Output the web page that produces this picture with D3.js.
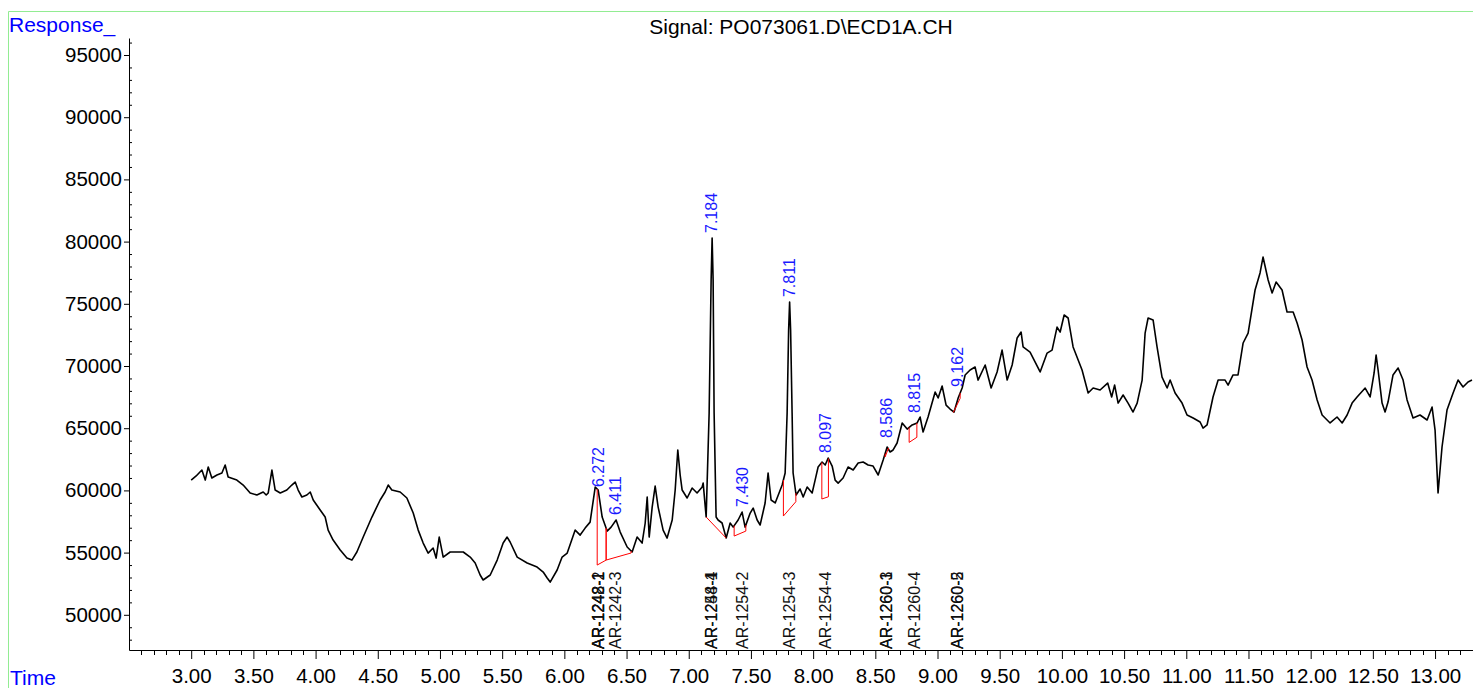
<!DOCTYPE html>
<html>
<head>
<meta charset="utf-8">
<script src="https://cdn.jsdelivr.net/npm/d3@7"></script>
<style>
  body { margin: 0; background: #fff; }
  svg { display: block; font-family: 'Liberation Sans', Arial, sans-serif; }
</style>
</head>
<body>
<svg id="chart" width="1473" height="688"></svg>
<script>
// chromatogram trace, [time (min), response]
var trace = [
  [3.000,60830],[3.040,61160],[3.086,61640],[3.113,60830],[3.137,61880],[3.166,61000],[3.207,61240],[3.247,61400],
  [3.273,62040],[3.297,61080],[3.367,60830],[3.418,60430],[3.474,59790],[3.528,59630],[3.579,59870],[3.603,59630],
  [3.619,59790],[3.649,61640],[3.675,60030],[3.716,59790],[3.769,60030],[3.809,60430],[3.836,60670],[3.860,60030],
  [3.890,59470],[3.930,59630],[3.957,59870],[3.981,59230],[4.037,58420],[4.077,57860],[4.101,56810],[4.141,56010],
  [4.198,55210],[4.252,54560],[4.292,54400],[4.332,55050],[4.383,56250],[4.453,57860],[4.519,59230],[4.559,59870],
  [4.584,60430],[4.613,60030],[4.680,59870],[4.734,59390],[4.785,58180],[4.825,56810],[4.865,55770],[4.905,54960],
  [4.945,55370],[4.969,54560],[4.994,56250],[5.026,54640],[5.082,55050],[5.136,55050],[5.187,55050],[5.243,54640],
  [5.283,54160],[5.323,53200],[5.347,52800],[5.404,53200],[5.460,54400],[5.508,55770],[5.540,56250],[5.564,55850],
  [5.621,54640],[5.701,54160],[5.781,53840],[5.830,53440],[5.862,52960],[5.886,52630],[5.942,53600],[5.982,54640],
  [6.023,54960],[6.087,56810],[6.127,56410],[6.167,56970],[6.207,57450],[6.248,60270],[6.272,60030],[6.304,57860],
  [6.344,56730],[6.376,57050],[6.416,57620],[6.449,56650],[6.505,55450],[6.545,55050],[6.585,56250],[6.625,55770],
  [6.650,57380],[6.666,59470],[6.682,56250],[6.706,58660],[6.730,60350],[6.754,58660],[6.794,56810],[6.826,56170],
  [6.867,57620],[6.891,60030],[6.912,63250],[6.931,61240],[6.947,60030],[6.987,59390],[7.027,60190],[7.067,59790],
  [7.108,60270],[7.116,60590],[7.140,57860],[7.164,66220],[7.180,76910],[7.188,80290],[7.196,76910],[7.204,66220],
  [7.220,57860],[7.236,57620],[7.268,57380],[7.301,56170],[7.333,57380],[7.357,57050],[7.397,57620],[7.429,58260],
  [7.453,57050],[7.494,58180],[7.518,58580],[7.550,57620],[7.574,57220],[7.614,58990],[7.638,61400],[7.662,59230],
  [7.695,58990],[7.751,60430],[7.775,61400],[7.791,66220],[7.803,72890],[7.811,75140],[7.819,72890],[7.831,66220],
  [7.839,61400],[7.863,59630],[7.895,60110],[7.920,59470],[7.952,60270],[7.992,59790],[8.016,60830],[8.040,61880],
  [8.072,62280],[8.097,62040],[8.121,62600],[8.153,61960],[8.177,60830],[8.201,60590],[8.241,61000],[8.281,61880],
  [8.322,61640],[8.362,62200],[8.402,62280],[8.442,62040],[8.482,61960],[8.523,61240],[8.563,62440],[8.595,63490],
  [8.619,63090],[8.643,63250],[8.675,63810],[8.716,65420],[8.756,64930],[8.796,65260],[8.836,65420],[8.860,65900],
  [8.884,64690],[8.924,65900],[8.981,67910],[9.005,67430],[9.037,68390],[9.069,66860],[9.101,66540],[9.133,66300],
  [9.166,67430],[9.198,68230],[9.222,69280],[9.262,69680],[9.302,69920],[9.326,68870],[9.383,70080],[9.431,68230],
  [9.479,69520],[9.519,71280],[9.560,68870],[9.600,70080],[9.640,72250],[9.672,72730],[9.688,71530],[9.744,71120],
  [9.825,69520],[9.881,71040],[9.921,71280],[9.961,73130],[9.986,72730],[10.018,74100],[10.050,73860],[10.090,71530],
  [10.162,69680],[10.211,67830],[10.251,68230],[10.307,68070],[10.368,68630],[10.400,67510],[10.424,68470],[10.452,67020],
  [10.492,67670],[10.532,67020],[10.572,66300],[10.605,67020],[10.645,68870],[10.669,72650],[10.693,73860],[10.733,73700],
  [10.765,71530],[10.805,69110],[10.846,68230],[10.870,68870],[10.910,67830],[10.966,67020],[11.006,66060],[11.055,65820],
  [11.111,65500],[11.135,65010],[11.167,65260],[11.215,67510],[11.256,68870],[11.312,68870],[11.336,68470],[11.376,69280],
  [11.416,69280],[11.457,71850],[11.497,72650],[11.553,76110],[11.593,77480],[11.617,78760],[11.658,76910],[11.690,75870],
  [11.722,76750],[11.770,76110],[11.810,74340],[11.859,74340],[11.891,73460],[11.931,72090],[11.971,69920],[12.011,68870],
  [12.052,67270],[12.092,66060],[12.156,65420],[12.212,65900],[12.253,65420],[12.293,66060],[12.333,67020],[12.373,67510],
  [12.438,68230],[12.478,67510],[12.510,69440],[12.526,70880],[12.542,69680],[12.574,67020],[12.598,66300],[12.622,67100],
  [12.662,69280],[12.703,69840],[12.743,68870],[12.775,67270],[12.823,65820],[12.879,66060],[12.936,65660],[12.976,66700],
  [13.000,64850],[13.024,59790],[13.056,63490],[13.096,66460],[13.145,67830],[13.185,68870],[13.225,68310],[13.265,68710],
  [13.297,68870]
];

// integrated peaks
var peakTimes   = [6.272, 6.411, 7.184, 7.430, 7.811, 8.097, 8.586, 8.815, 9.162];
var peakHeights = [59950, 57700, 80370, 58340, 75220, 62680, 63890, 65900, 67990];

// integration baselines: [start time, start resp, end time, end resp]
var baselines = [
  [6.264,54000, 6.336,54400],
  [6.336,54400, 6.537,54970],
  [7.140,57860, 7.301,56170],
  [7.365,56330, 7.459,56730],
  [7.761,57940, 7.861,59090],
  [8.070,59310, 8.123,59490],
  [8.579,62700, 8.606,63410],
  [8.772,63860, 8.834,64270],
  [9.128,66280, 9.182,67400]
];

// compound names at expected retention times
var compoundTimes = [6.272, 6.272, 6.272, 6.411, 7.184, 7.184, 7.430, 7.811, 8.097, 8.586, 8.586, 8.815, 9.162, 9.162];
var compoundNames = ['AR-1242-1', 'AR-1248-1', 'AR-1248-2', 'AR-1242-3', 'AR-1254-1', 'AR-1248-4', 'AR-1254-2',
  'AR-1254-3', 'AR-1254-4', 'AR-1260-3', 'AR-1260-1', 'AR-1260-4', 'AR-1260-2', 'AR-1260-5'];

var xTicks = [3.00, 3.50, 4.00, 4.50, 5.00, 5.50, 6.00, 6.50, 7.00, 7.50, 8.00, 8.50, 9.00, 9.50,
  10.00, 10.50, 11.00, 11.50, 12.00, 12.50, 13.00];
var yTicks = [50000, 55000, 60000, 65000, 70000, 75000, 80000, 85000, 90000, 95000];

var titleText = 'Signal: PO073061.D\\ECD1A.CH';

var svg = d3.select('#chart');
var FONT = "'Liberation Sans', Arial, sans-serif";

var x = d3.scaleLinear().domain([2.5, 13.305]).range([129, 1473]);
var y = d3.scaleLinear().domain([47171, 96367]).range([650, 38]);

// green frame
svg.append('path')
  .attr('d', 'M8.5,688V11.5H1473')
  .attr('fill', 'none')
  .attr('stroke', '#92ec92')
  .attr('stroke-width', 1);

// y axis
var gy = svg.append('g')
  .attr('transform', 'translate(129,0)')
  .call(d3.axisLeft(y).tickValues(yTicks).tickSize(5).tickSizeOuter(0).tickPadding(2).tickFormat(d3.format('d')));
gy.selectAll('text').attr('font-size', '20.5px').attr('font-family', FONT).attr('fill', '#000');
gy.selectAll('line, path').attr('stroke', '#000');
gy.selectAll('.minor')
  .data(d3.range(48000, 96001, 1000).filter(function (v) { return v % 5000 !== 0; }))
  .enter().append('line')
  .attr('x1', 0).attr('x2', 3)
  .attr('y1', function (d) { return y(d) + 0.5; })
  .attr('y2', function (d) { return y(d) + 0.5; })
  .attr('stroke', '#000');

// x axis
var gx = svg.append('g')
  .attr('transform', 'translate(0,650)')
  .call(d3.axisBottom(x).tickValues(xTicks).tickSize(9).tickSizeOuter(0).tickFormat(d3.format('.2f')));
gx.selectAll('text')
  .attr('font-size', '20.5px').attr('font-family', FONT).attr('fill', '#000')
  .attr('y', 33).attr('dy', 0);
gx.selectAll('line, path').attr('stroke', '#000');
gx.selectAll('.minor')
  .data(d3.range(26, 133).filter(function (v) { return v % 5 !== 0; }))
  .enter().append('line')
  .attr('x1', function (d) { return Math.round(x(d / 10)) + 0.5; })
  .attr('x2', function (d) { return Math.round(x(d / 10)) + 0.5; })
  .attr('y1', 0).attr('y2', 5)
  .attr('stroke', '#000');

// axis captions and title
svg.append('text').text('Response_')
  .attr('x', 9).attr('y', 31.5)
  .attr('font-size', '21px').attr('font-family', FONT).attr('fill', '#0000ff');
svg.append('text').text('Time')
  .attr('x', 10).attr('y', 685)
  .attr('font-size', '21px').attr('font-family', FONT).attr('fill', '#0000ff');
svg.append('text').text(titleText)
  .attr('x', 801).attr('y', 34)
  .attr('text-anchor', 'middle')
  .attr('font-size', '21px').attr('font-family', FONT).attr('fill', '#000');

// compound labels along the bottom
compoundTimes.forEach(function (t, i) {
  svg.append('text').text(compoundNames[i])
    .attr('transform', 'translate(' + x(t) + ',649) rotate(-90)')
    .attr('dy', '0.35em')
    .attr('font-size', '16px').attr('font-family', FONT).attr('fill', '#111');
});

// trace
var line = d3.line()
  .x(function (d) { return x(d[0]); })
  .y(function (d) { return y(d[1]); });
svg.append('path')
  .datum(trace)
  .attr('d', line)
  .attr('fill', 'none')
  .attr('stroke', '#000')
  .attr('stroke-width', 1.6)
  .attr('stroke-linejoin', 'round');

// baselines with drop lines to the signal
var bisect = d3.bisector(function (d) { return d[0]; }).left;
function respAt(t) {
  var i = bisect(trace, t), a, b;
  if (i <= 0) return trace[0][1];
  if (i >= trace.length) return trace[trace.length - 1][1];
  a = trace[i - 1];
  b = trace[i];
  return a[1] + (b[1] - a[1]) * (t - a[0]) / (b[0] - a[0]);
}
var gb = svg.append('g').attr('stroke', '#ff0000').attr('stroke-width', 1).attr('fill', 'none');
baselines.forEach(function (b) {
  gb.append('path').attr('d',
    'M' + x(b[0]) + ',' + y(respAt(b[0])) +
    'L' + x(b[0]) + ',' + y(b[1]) +
    'L' + x(b[2]) + ',' + y(b[3]) +
    'L' + x(b[2]) + ',' + y(respAt(b[2])));
});

// retention time labels
peakTimes.forEach(function (t, i) {
  svg.append('text').text(t.toFixed(3))
    .attr('transform', 'translate(' + x(t) + ',' + (y(peakHeights[i]) - 4) + ') rotate(-90)')
    .attr('dy', '0.35em')
    .attr('font-size', '16px').attr('font-family', FONT).attr('fill', '#1a1aff');
});
</script>
</body>
</html>
